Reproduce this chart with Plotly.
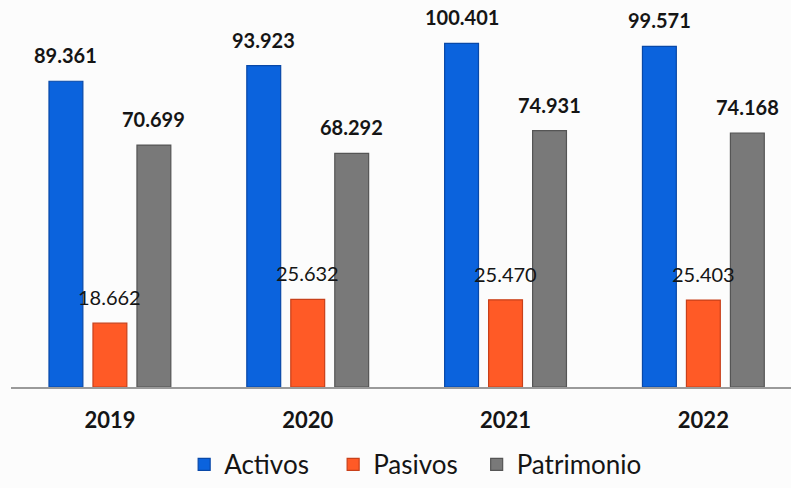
import plotly.graph_objects as go

years = ["2019", "2020", "2021", "2022"]
activos = [89.361, 93.923, 100.401, 99.571]
pasivos = [18.662, 25.632, 25.470, 25.403]
patrimonio = [70.699, 68.292, 74.931, 74.168]

series = [
    ("Activos", activos, "#0b63dd", "#0848a8", "bold"),
    ("Pasivos", pasivos, "#ff5a26", "#c8401a", "normal"),
    ("Patrimonio", patrimonio, "#797979", "#555555", "bold"),
]

FONT = "Lato, Carlito, 'Open Sans', sans-serif"
BARGAP = 0.333
BARGROUPGAP = 0.23
LEGEND_X = [0.222, 0.413, 0.597]
LEGEND_IDS = ["legend", "legend2", "legend3"]

fig = go.Figure()
for k, (name, vals, col, line, _) in enumerate(series):
    fig.add_trace(go.Bar(
        x=years, y=vals, name=name, legend=LEGEND_IDS[k],
        marker=dict(color=col, line=dict(color=line, width=1.2)),
    ))

n = len(series)
slot = (1 - BARGAP) / n
annotations = []
for j, (name, vals, col, line, weight) in enumerate(series):
    for i, v in enumerate(vals):
        annotations.append(dict(
            x=i + (j - (n - 1) / 2) * slot, y=v, xref="x", yref="y",
            text=f"{v:.3f}", showarrow=False, yanchor="middle", yshift=26,
            font=dict(family=FONT, size=20, color="#151515", weight=weight),
        ))

legend_style = dict(
    orientation="h", xanchor="left", y=-0.2, yanchor="middle",
    font=dict(family=FONT, size=26, color="#151515"),
    itemwidth=30, bgcolor="rgba(0,0,0,0)",
)

fig.update_layout(
    width=791, height=488,
    margin=dict(l=11, r=0, t=0, b=99),
    paper_bgcolor="#fcfcfc", plot_bgcolor="#fcfcfc",
    barmode="group", bargap=BARGAP, bargroupgap=BARGROUPGAP,
    font=dict(family=FONT, color="#151515"),
    showlegend=True,
    annotations=annotations,
)
for lid, lx in zip(LEGEND_IDS, LEGEND_X):
    fig.update_layout({lid: dict(legend_style, x=lx)})

fig.update_xaxes(
    range=[-0.5, 3.443], showline=True, linecolor="#9a9a9a", linewidth=1.5,
    ticks="outside", ticklen=13, tickcolor="rgba(0,0,0,0)",
    tickfont=dict(family=FONT, size=22, color="#151515", weight="bold"),
    showgrid=False, zeroline=False,
)
fig.update_yaxes(range=[0, 113.1], visible=False, showgrid=False)

fig.write_html("out.html", config={"displayModeBar": False},
               post_script="document.body.style.margin='0';")
